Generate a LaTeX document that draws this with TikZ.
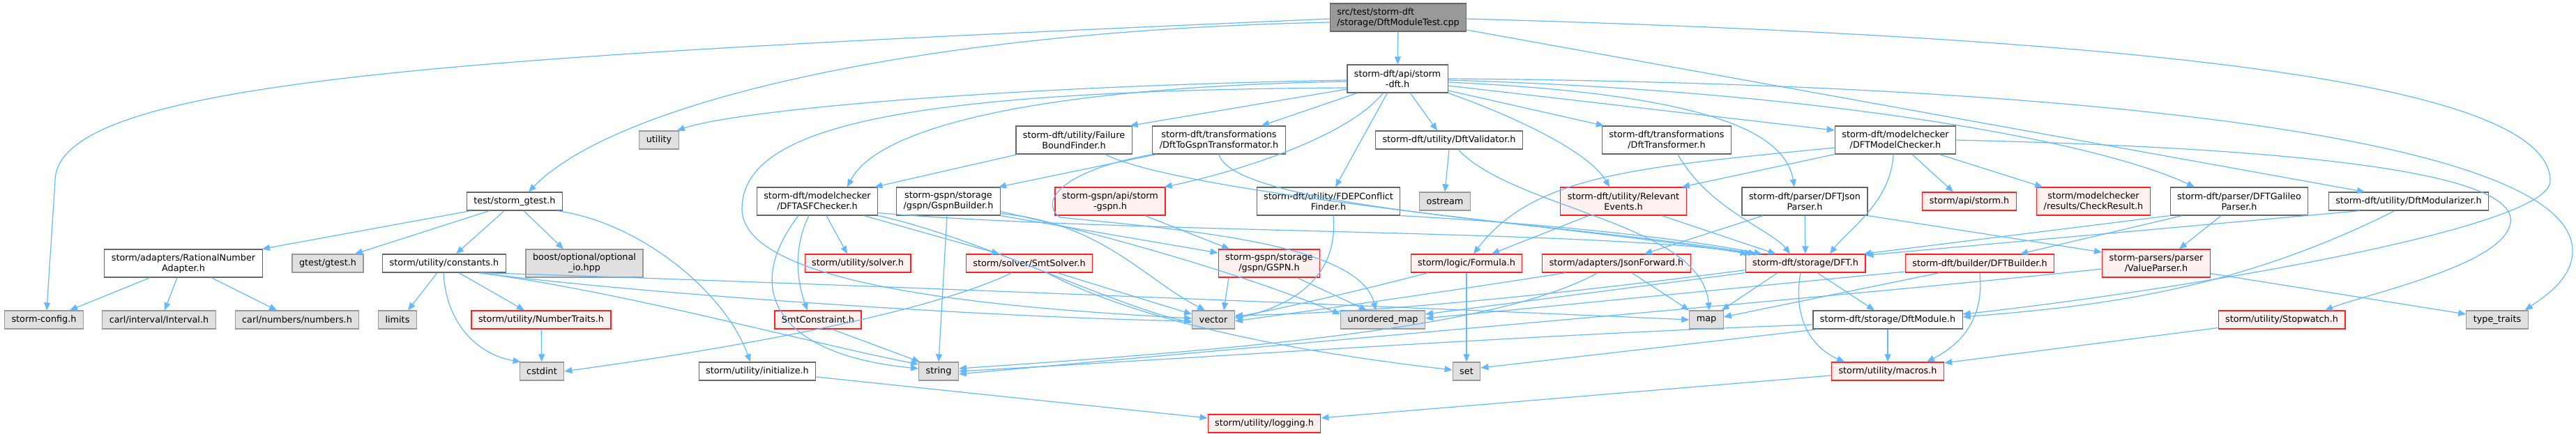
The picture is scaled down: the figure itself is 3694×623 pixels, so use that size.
\documentclass[tikz,border=0pt]{standalone}
\usepackage{fontspec}
\setmainfont{DejaVu Sans}
\usetikzlibrary{arrows.meta}
\definecolor{edgeblue}{HTML}{63B8FF}
\definecolor{boxline}{HTML}{666666}
\definecolor{sysline}{HTML}{999999}
\definecolor{sysfill}{HTML}{E0E0E0}
\definecolor{truncfill}{HTML}{FFF0F0}
\definecolor{truncline}{HTML}{FF2020}
\definecolor{rootfill}{HTML}{999999}
\begin{document}
\begin{tikzpicture}[x=1pt,y=-1pt,>={Triangle[length=11pt,width=9pt]},
  box/.style={draw=boxline,line width=1.2pt,fill=white,font=\fontsize{12.8pt}{15pt}\selectfont,
    inner xsep=10pt,inner ysep=0pt,minimum height=26pt,align=center},
  tall/.style={minimum height=40pt},
  sys/.style={box,draw=sysline,fill=sysfill},
  trunc/.style={box,draw=truncline,fill=truncfill},
  link/.style={->,draw=edgeblue,line width=1.2pt}]
  \useasboundingbox (0,0) rectangle (3694,623);

  \node[box,tall,fill=rootfill,align=left] (root) at (2005,25) {src/test/storm-dft\\/storage/DftModuleTest.cpp};
  \node[box,tall] (api) at (2004,113) {storm-dft/api/storm\\-dft.h};
  \node[box] (gtesth) at (738,289) {test/storm\_gtest.h};
  \node[sys] (utility) at (945,201) {utility};
  \node[box,tall] (fbf) at (1540,201) {storm-dft/utility/Failure\\BoundFinder.h};
  \node[box,tall] (d2g) at (1748,201) {storm-dft/transformations\\/DftToGspnTransformator.h};
  \node[box] (validator) at (2078,201) {storm-dft/utility/DftValidator.h};
  \node[box,tall] (transformer) at (2390,201) {storm-dft/transformations\\/DftTransformer.h};
  \node[box,tall] (mc) at (2718,201) {storm-dft/modelchecker\\/DFTModelChecker.h};
  \node[box,tall] (asf) at (1172,289) {storm-dft/modelchecker\\/DFTASFChecker.h};
  \node[box,tall] (gspnbuilder) at (1360,289) {storm-gspn/storage\\/gspn/GspnBuilder.h};
  \node[trunc,tall] (gspnapi) at (1592,289) {storm-gspn/api/storm\\-gspn.h};
  \node[box,tall] (fdep) at (1905,289) {storm-dft/utility/FDEPConflict\\Finder.h};
  \node[sys] (ostream) at (2072,289) {ostream};
  \node[trunc,tall] (relevant) at (2328,289) {storm-dft/utility/Relevant\\Events.h};
  \node[box,tall] (jsonparser) at (2588,289) {storm-dft/parser/DFTJson\\Parser.h};
  \node[trunc] (stormapi) at (2824,289) {storm/api/storm.h};
  \node[trunc,tall] (checkresult) at (3002,289) {storm/modelchecker\\/results/CheckResult.h};
  \node[box,tall] (galileo) at (3211,289) {storm-dft/parser/DFTGalileo\\Parser.h};
  \node[box] (modularizer) at (3454,289) {storm-dft/utility/DftModularizer.h};
  \node[box,tall] (rna) at (263,378) {storm/adapters/RationalNumber\\Adapter.h};
  \node[sys] (gtest) at (470,378) {gtest/gtest.h};
  \node[box] (constants) at (637,378) {storm/utility/constants.h};
  \node[sys,tall] (boost) at (838,378) {boost/optional/optional\\\_io.hpp};
  \node[trunc] (solver) at (1230,378) {storm/utility/solver.h};
  \node[trunc] (smtsolver) at (1476,378) {storm/solver/SmtSolver.h};
  \node[trunc,tall] (gspn) at (1820,378) {storm-gspn/storage\\/gspn/GSPN.h};
  \node[trunc] (formula) at (2103,378) {storm/logic/Formula.h};
  \node[trunc] (jsonfwd) at (2318,378) {storm/adapters/JsonForward.h};
  \node[trunc] (dft) at (2589,378) {storm-dft/storage/DFT.h};
  \node[trunc] (builder) at (2839,378) {storm-dft/builder/DFTBuilder.h};
  \node[trunc,tall] (valueparser) at (3092,378) {storm-parsers/parser\\/ValueParser.h};
  \node[sys] (config) at (63,459) {storm-config.h};
  \node[sys] (interval) at (228,459) {carl/interval/Interval.h};
  \node[sys] (numbers) at (426,459) {carl/numbers/numbers.h};
  \node[sys] (limits) at (570,459) {limits};
  \node[trunc] (numbertraits) at (776,459) {storm/utility/NumberTraits.h};
  \node[trunc] (smtconstraint) at (1173,459) {SmtConstraint.h};
  \node[sys] (vector) at (1740,459) {vector};
  \node[sys] (umap) at (1983,459) {unordered\_map};
  \node[sys] (map) at (2447,459) {map};
  \node[box] (module) at (2707,459) {storm-dft/storage/DftModule.h};
  \node[trunc] (stopwatch) at (3272,459) {storm/utility/Stopwatch.h};
  \node[sys] (typetraits) at (3581,459) {type\_traits};
  \node[sys] (cstdint) at (777,533) {cstdint};
  \node[box] (initialize) at (1086,533) {storm/utility/initialize.h};
  \node[sys] (string) at (1346,533) {string};
  \node[sys] (set) at (2103,533) {set};
  \node[trunc] (macros) at (2707,533) {storm/utility/macros.h};
  \node[trunc] (logging) at (1813,608) {storm/utility/logging.h};

  \draw[link] ([yshift=-2pt]root.west) .. controls (700,80) and (79,110) .. (79,260) -- ([xshift=4pt]config.north);
  \draw[link] ([yshift=-7pt]root.west) .. controls (1300,45) and (880,150) .. ([xshift=20pt]gtesth.north);
  \draw[link] (root) -- (api);
  \draw[link] ([yshift=-18pt]root.east) -- ([xshift=-63pt]modularizer.north);
  \draw[link] ([yshift=-2pt]root.east) .. controls (3100,55) and (3657,120) .. (3657,260) .. controls (3657,330) and (3100,420) .. ([yshift=8pt]module.east);

  \draw[link] ([yshift=-2pt]api.west) .. controls (1400,125) and (1050,160) .. ([xshift=-3pt]utility.north east);
  \draw[link] ([yshift=-4pt]api.west) .. controls (1500,125) and (1260,180) .. ([xshift=43pt]asf.north);
  \draw[link] ([yshift=-13pt]api.west) .. controls (1300,130) and (1064,180) .. (1064,300) .. controls (1064,420) and (1500,445) .. ([yshift=2pt]vector.west);
  \draw[link] ([yshift=-15pt]api.west) -- ([xshift=-3pt]fbf.north east);
  \draw[link] ([xshift=15pt]api.south west) -- ([xshift=61pt]d2g.north);
  \draw[link] ([xshift=52pt]api.south west) .. controls (1930,200) and (1760,250) .. ([xshift=-2pt]gspnapi.north east);
  \draw[link] ([xshift=58pt]api.south west) -- ([xshift=10pt]fdep.north);
  \draw[link] ([xshift=91pt]api.south west) -- ([xshift=-17pt]validator.north);
  \draw[link] (api.south east) .. controls (2180,170) and (2280,220) .. ([xshift=-20pt]relevant.north);
  \draw[link] ([yshift=-17pt]api.east) -- ([xshift=3pt]transformer.north west);
  \draw[link] ([yshift=-10pt]api.east) -- ([yshift=14pt]mc.west);
  \draw[link] ([yshift=-5pt]api.east) .. controls (2450,135) and (2560,190) .. ([xshift=-15pt]jsonparser.north);
  \draw[link] ([yshift=-2pt]api.east) .. controls (2600,130) and (3000,200) .. ([xshift=-64pt]galileo.north);
  \draw[link] (api.east) .. controls (3000,120) and (3689,200) .. (3689,360) .. controls (3689,400) and (3650,425) .. ([xshift=-5pt]typetraits.north east);

  \draw[link] ([xshift=6pt]gtesth.south west) -- ([xshift=113pt]rna.north);
  \draw[link] ([xshift=33pt]gtesth.south west) -- ([xshift=39pt]gtest.north);
  \draw[link] ([xshift=-15pt]gtesth.south) -- ([xshift=17pt]constants.north);
  \draw[link] ([xshift=13pt]gtesth.south) -- ([xshift=-30pt]boost.north);
  \draw[link] ([xshift=-8pt]gtesth.south east) .. controls (920,320) and (1040,420) .. ([xshift=-10pt]initialize.north);

  \draw[link] ([xshift=-48pt]rna.south) -- ([xshift=37pt]config.north);
  \draw[link] ([xshift=-9pt]rna.south) -- ([xshift=8pt]interval.north);
  \draw[link] ([xshift=40pt]rna.south) -- ([xshift=-29pt]numbers.north);

  \draw[link] ([xshift=-10pt]constants.south) -- ([xshift=15pt]limits.north);
  \draw[link] ([xshift=-1pt]constants.south) .. controls (640,470) and (690,510) .. ([xshift=2pt]cstdint.north west);
  \draw[link] ([xshift=21pt]constants.south) -- ([xshift=-24pt]numbertraits.north);
  \draw[link] ([xshift=50pt]constants.south) .. controls (900,420) and (1400,455) .. ([yshift=-2pt]vector.west);
  \draw[link] ([xshift=50pt]constants.south) .. controls (1000,400) and (2000,440) .. (map.west);
  \draw[link] ([xshift=50pt]constants.south) .. controls (900,420) and (1150,490) .. ([yshift=10pt]string.west);
  \draw[link] (numbertraits) -- (cstdint);
  \draw[link] ([yshift=-8pt]initialize.east) -- ([yshift=8pt]logging.west);

  \draw[link] ([xshift=13pt]asf.south) -- ([xshift=-15pt]solver.north);
  \draw[link] ([xshift=67pt]asf.south) -- ([xshift=-43pt]smtsolver.north);
  \draw[link] ([xshift=-12pt]asf.south) .. controls (1135,360) and (1145,410) .. ([xshift=-15pt]smtconstraint.north);
  \draw[link] ([xshift=-27pt]asf.south) .. controls (1060,420) and (1120,510) .. ([yshift=4pt]string.west);
  \draw[link] (asf.south east) .. controls (1400,340) and (1600,440) .. ([yshift=-4pt]vector.west);
  \draw[link] ([yshift=4pt]asf.south east) .. controls (1600,335) and (2300,330) .. ([xshift=10pt]dft.north west);

  \draw[link] ([xshift=3pt]fbf.south west) -- ([xshift=-5pt]asf.north east);
  \draw[link] ([xshift=45pt]fbf.south) .. controls (1700,280) and (2300,330) .. ([xshift=4pt]dft.north west);
  \draw[link] ([xshift=-90pt]d2g.south) -- ([xshift=-3pt]gspnbuilder.north east);
  \draw[link] (d2g.south) .. controls (1770,300) and (2250,320) .. ([xshift=16pt]dft.north west);
  \draw[link] ([xshift=-95pt]d2g.south) .. controls (1520,245) and (1490,290) .. (1520,312) .. controls (1700,330) and (1950,350) .. ([xshift=-10pt]umap.north);

  \draw[link] ([xshift=-2pt]gspnbuilder.south) -- (string.north);
  \draw[link] (gspnbuilder.south east) -- ([yshift=15pt]gspn.west);
  \draw[link] ([yshift=3pt]gspnbuilder.south east) .. controls (1580,320) and (1640,400) .. ([xshift=-12pt]vector.north);
  \draw[link] ([yshift=6pt]gspnbuilder.south east) .. controls (1600,340) and (1800,400) .. ([yshift=8pt]umap.west);
  \draw[link] ([xshift=50pt]gspnapi.south) -- ([xshift=-57pt]gspn.north);

  \draw[link] (fdep.south east) .. controls (2200,320) and (2400,340) .. ([xshift=24pt]dft.north west);
  \draw[link] ([xshift=7pt]fdep.south) .. controls (1920,400) and (1850,440) .. ([yshift=2pt]vector.east);
  \draw[link] (validator.south) -- (ostream.north);
  \draw[link] ([xshift=13pt]validator.south) .. controls (2170,300) and (2440,320) .. ([xshift=4pt]map.north);
  \draw[link] ([xshift=-50pt]relevant.south) -- ([xshift=36pt]formula.north);
  \draw[link] ([xshift=55pt]relevant.south) -- ([xshift=44pt]dft.north west);
  \draw[link] ([xshift=16pt]transformer.south) .. controls (2450,300) and (2540,330) .. ([xshift=-22pt]dft.north);

  \draw[link] ([yshift=-11pt]mc.west) .. controls (2350,240) and (2200,250) .. ([xshift=10pt]formula.north);
  \draw[link] (mc.south west) -- ([xshift=-7pt]relevant.north east);
  \draw[link] ([xshift=-3pt]mc.south) .. controls (2712,290) and (2650,330) .. ([xshift=35pt]dft.north);
  \draw[link] ([xshift=24pt]mc.south) -- ([xshift=-23pt]stormapi.north);
  \draw[link] ([xshift=63pt]mc.south) -- ([xshift=9pt]checkresult.north west);
  \draw[link] (mc.east) .. controls (3400,215) and (3610,260) .. (3600,320) .. controls (3590,380) and (3400,420) .. ([xshift=62pt]stopwatch.north);

  \draw[link] (jsonparser) -- (dft);
  \draw[link] ([xshift=-60pt]jsonparser.south) -- ([xshift=40pt]jsonfwd.north);
  \draw[link] (jsonparser.south east) -- ([yshift=16pt]valueparser.west);
  \draw[link] (galileo.south west) -- ([xshift=-3pt]dft.north east);
  \draw[link] ([xshift=-82pt]galileo.south) -- ([xshift=58pt]builder.north);
  \draw[link] ([xshift=-26pt]galileo.south) -- ([xshift=33pt]valueparser.north);
  \draw[link] ([xshift=-70pt]modularizer.south) -- ([yshift=-2pt]dft.north east);
  \draw[link] ([xshift=-20pt]modularizer.south) .. controls (3200,420) and (3000,440) .. ([yshift=4pt]module.east);

  \draw[link] (formula) -- (set);
  \draw[link] ([xshift=-55pt]formula.south) .. controls (1900,430) and (1800,450) .. ([yshift=4pt]vector.east);
  \draw[link] ([xshift=22pt]jsonfwd.south) -- (map.north west);
  \draw[link] ([xshift=-73pt]jsonfwd.south) .. controls (2000,430) and (1850,450) .. ([yshift=-2pt]vector.east);
  \draw[link] ([xshift=-27pt]jsonfwd.south) .. controls (2150,470) and (1800,500) .. ([yshift=4pt]string.east);

  \draw[link] (dft.south west) -- ([yshift=8pt]umap.east);
  \draw[link] ([yshift=4pt]dft.south west) .. controls (2100,440) and (1900,450) .. ([yshift=6pt]vector.east);
  \draw[link] ([xshift=-40pt]dft.south) -- ([xshift=-3pt]map.north east);
  \draw[link] ([xshift=17pt]dft.south) -- ([xshift=-19pt]module.north);
  \draw[link] ([xshift=-7pt]dft.south) .. controls (2570,460) and (2600,500) .. ([xshift=-62pt]macros.north);
  \draw[link] (module) -- (macros);
  \draw[link] ([xshift=8pt]module.south west) -- ([yshift=5pt]set.east);
  \draw[link] ([yshift=-7pt]module.west) .. controls (2200,480) and (1700,515) .. (string.east);

  \draw[link] ([yshift=-12pt]builder.west) -- ([yshift=2pt]umap.east);
  \draw[link] ([xshift=50pt]builder.south west) -- ([yshift=4pt]map.east);
  \draw[link] (builder.south) .. controls (2845,450) and (2820,490) .. ([xshift=56pt]macros.north);
  \draw[link] ([yshift=6pt]valueparser.south east) -- ([yshift=8pt]typetraits.west);
  \draw[link] ([yshift=-8pt]valueparser.west) .. controls (2700,420) and (2000,480) .. ([yshift=-4pt]string.east);

  \draw[link] ([xshift=-25pt]smtsolver.south) .. controls (1330,450) and (1050,500) .. (cstdint.east);
  \draw[link] ([xshift=40pt]smtsolver.south) -- ([yshift=8pt]vector.west);
  \draw[link] ([xshift=25pt]smtsolver.south) .. controls (1650,470) and (1900,510) .. ([yshift=2pt]set.west);
  \draw[link] ([xshift=20pt]smtconstraint.south) -- ([xshift=2pt]string.north west);
  \draw[link] ([xshift=-58pt]gspn.south) -- ([xshift=15pt]vector.north);
  \draw[link] ([xshift=40pt]gspn.south) -- ([xshift=-23pt]umap.north);
  \draw[link] ([yshift=2pt]stopwatch.south west) -- ([yshift=12pt]macros.east);
  \draw[link] ([yshift=-6pt]macros.west) -- ([yshift=8pt]logging.east);
\end{tikzpicture}
\end{document}
